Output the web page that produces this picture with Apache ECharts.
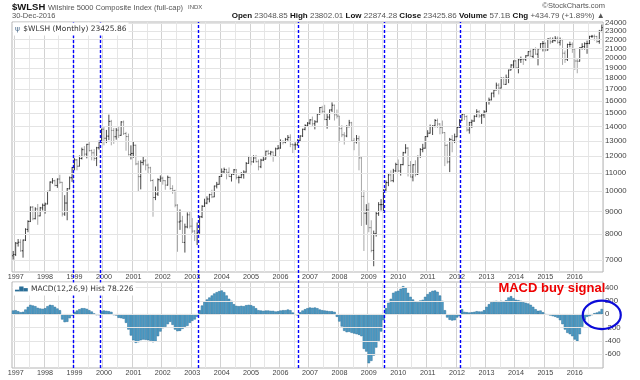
<!DOCTYPE html>
<html><head><meta charset="utf-8">
<script src="https://cdn.jsdelivr.net/npm/echarts@6/dist/echarts.min.js"></script>
<style>html,body{margin:0;padding:0;background:#fff}#c{width:640px;height:380px}</style>
</head><body><div id="c"></div>
<script>
// Monthly bars, Dec 1996 .. Dec 2016 (241 months)
const firstYear = 1996, firstMonth = 12, monthCount = 241;
const priceTicks = [7000,8000,9000,10000,11000,12000,13000,14000,15000,16000,17000,18000,19000,20000,21000,22000,23000,24000];
const macdTicks = [-600,-400,-200,0,200,400];
// MACD zero-cross marker positions (in month index units)
const signalPos = [24.6, 35.5, 75.5, 116.3, 151.4, 182.3];

const openP = [7150,7198,7634,7671,7337,7757,8203,8550,9209,8671,9122,8799,9172,
9298,9362,10000,10489,10562,10308,10658,10478,8884,9407,10130,10729,
11318,11773,11393,11860,12417,12133,12766,12357,12214,11865,12539,12917,
13812,13178,13323,14386,13725,13283,13746,13378,14342,13503,13293,12098,
12175,12704,11531,10791,11620,11717,11461,11301,10576,9681,9856,10620,
10708,10567,10326,10751,10145,10031,9304,8524,8565,7664,8308,8848,
8341,8129,7991,8058,8757,9250,9404,9606,9828,9711,10276,10370,
10800,11062,11198,11037,10796,10927,11180,10742,10744,10901,11053,11562,
11974,11659,11892,11664,11360,11760,11818,12317,12167,12264,12010,12470,
12520,12954,12909,13104,13237,12764,12727,12741,13038,13332,13807,14090,
14254,14497,14209,14351,14942,15459,15154,14524,14710,15268,15649,14885,
14786,13854,13413,13333,13994,14284,12992,12927,13149,11897,9736,8918,
9078,8275,7351,8019,8903,9329,9331,10072,10461,10888,10569,11121,
11497,11115,11487,12220,12520,11439,10771,11479,10913,11983,12424,12514,
13293,13530,14002,14054,14454,14192,13933,13569,12701,11654,13097,13030,
13280,13938,14476,14902,14748,13758,14303,14414,14769,15127,14799,14870,
15118,15955,16086,16665,16934,17367,17107,18004,17440,18026,18795,19286,
19703,18985,19822,19884,19876,20236,20680,20176,20935,20413,20988,21550,
21580,20848,22097,21754,21898,22170,21704,21985,20511,19872,21459,21470,
20950,19694,19670,21112,21231,21557,21576,22388,22404,22377,21793,23049];

const closeP = [7198,
7634,7671,7337,7757,8203,8550,9209,8671,9122,8799,9172,9298,
9362,10000,10489,10562,10308,10658,10478,8884,9407,10130,10729,11318,
11773,11393,11860,12417,12133,12766,12357,12214,11865,12539,12917,13812,
13178,13323,14386,13725,13283,13746,13378,14342,13503,13293,12098,12175,
12704,11531,10791,11620,11717,11461,11301,10576,9681,9856,10620,10708,
10567,10326,10751,10145,10031,9304,8524,8565,7664,8308,8848,8341,
8129,7991,8058,8757,9250,9404,9606,9828,9711,10276,10370,10800,
11062,11198,11037,10796,10927,11180,10742,10744,10901,11053,11562,11974,
11659,11892,11664,11360,11760,11818,12317,12167,12264,12010,12470,12520,
12954,12909,13104,13237,12764,12727,12741,13038,13332,13807,14090,14254,
14497,14209,14351,14942,15459,15154,14524,14710,15268,15649,14885,14786,
13854,13413,13333,13994,14284,12992,12927,13149,11897,9736,8918,9078,
8275,7351,8019,8903,9329,9331,10072,10461,10888,10569,11121,11497,
11115,11487,12220,12520,11439,10771,11479,10913,11983,12424,12514,13293,
13530,14002,14054,14454,14192,13933,13569,12701,11654,13097,13030,13280,
13938,14476,14902,14748,13758,14303,14414,14769,15127,14799,14870,15118,
15955,16086,16665,16934,17367,17107,18004,17440,18026,18795,19286,19703,
18985,19822,19884,19876,20236,20680,20176,20935,20413,20988,21550,21580,
20848,22097,21754,21898,22170,21704,21985,20511,19872,21459,21470,20950,
19694,19670,21112,21231,21557,21576,22388,22404,22377,21793,22991,23426];

const highP = [7330,
7680,7800,7790,7780,8250,8600,9240,9260,9200,9360,9220,9380,
9430,10020,10530,10710,10620,10690,10900,10500,9800,10170,10800,11350,
11880,11830,12050,12550,12650,12800,12990,12430,12450,12600,13020,13850,
14000,13760,14900,14500,13900,13900,14000,14400,14450,13620,13500,12700,
12950,12750,11720,11750,12000,11820,11550,11360,10650,10250,10700,10860,
10790,10600,10850,10780,10320,10080,9350,9100,8800,8450,8960,8980,
8700,8170,8500,8800,9300,9620,9740,9870,10080,10300,10500,10830,
11260,11310,11240,11320,10990,11230,11230,10850,11050,11150,11640,12020,
11980,12060,12080,11800,11840,12020,12350,12400,12340,12300,12550,12720,
13100,13050,13200,13400,13450,12830,12900,13120,13380,13850,14160,14330,
14550,14750,14480,14990,15500,15600,15680,14950,15300,15880,15700,15300,
14800,14100,13600,14100,14500,14350,13200,13400,13350,11950,10050,9350,
9420,8600,8150,8990,9450,9600,10100,10580,11000,11150,11240,11600,
11800,11530,12280,12780,12580,11700,11520,11750,12050,12520,12800,13320,
13740,14150,14100,14560,14600,14250,14450,13600,12800,13200,13400,13500,
14000,14550,14990,15000,14850,14350,14520,14850,15320,15250,14950,15250,
15990,16280,16700,17000,17600,17550,18080,18130,18350,18830,19370,19750,
19790,19930,20150,19990,20300,20730,20900,20990,21150,21050,21620,21850,
21700,22150,22300,22250,22420,22380,22250,22100,20800,21550,21780,21700,
20960,20000,21150,21600,21700,21900,22450,22560,22600,22450,23150,23802];

const lowP = [7010,
7140,7500,7300,7080,7720,8080,8520,8600,8640,8400,8780,9050,
8900,9340,9970,10400,10260,10180,10400,8770,8800,8600,10100,10500,
11150,11150,11380,11800,11950,11870,12300,11750,11720,11400,12420,12850,
12700,12850,13050,12700,12800,13080,13200,13350,13400,12350,12050,11800,
11900,11450,10000,10100,11450,11150,10950,10520,8760,9550,9760,10500,
10350,10080,10300,10080,9870,9200,7300,8180,7640,7270,8250,8240,
8050,7720,7560,8020,8700,9220,9350,9440,9650,9700,10150,10350,
10780,10990,10640,10770,10520,10900,10640,10420,10700,10680,11020,11540,
11450,11600,11620,11150,11280,11700,11800,12080,12050,11660,11980,12440,
12480,12760,12840,13000,12580,12200,12400,12660,12970,13260,13730,14010,
14150,14050,13800,14300,14900,14950,14480,13850,14500,15100,14450,14600,
12900,13250,12750,13250,13950,12950,12380,12820,11150,8350,7330,8400,
8080,7280,6770,7900,8800,9050,8950,9950,10270,10500,10480,11050,
11050,10850,11450,12180,10800,10750,10530,10800,10900,11900,12250,12480,
13250,13500,13400,13950,13900,13450,13480,11400,11550,11050,12250,12850,
13250,13900,14420,14480,13650,13500,13900,14350,14700,14650,14200,14650,
15100,15700,16050,16300,16900,16550,17080,17400,17400,17550,18760,18950,
18900,18470,19500,19300,19700,20200,20150,20000,20350,19250,20980,20700,
20700,20800,21500,21650,21800,21550,21350,19300,19500,19700,21150,20550,
18800,18480,19650,20900,20900,20450,21500,22200,21900,21650,21550,22874];

const macdHist = [55,60,45,30,35,
70,110,140,130,120,95,
85,80,90,
120,140,135,110,
85,60,
-80,-120,-115,-60,-25,
35,55,75,90,90,80,60,40,10,-15,-15,45,
55,50,45,35,-15,-20,-55,-60,-70,
-130,-230,-320,-390,-430,-420,-390,-380,-385,-390,-400,-420,-410,
-330,-260,-210,-190,-150,-115,-160,-230,-255,-250,-220,-190,-175,-130,-100,-80,-40,
60,130,185,220,250,280,310,330,345,355,
330,280,230,200,150,125,120,125,120,135,140,135,120,90,60,
55,50,55,55,50,50,40,45,55,60,60,70,60,25,-10,-20,
30,55,75,90,100,95,100,90,70,60,55,50,45,45,35,
-40,-110,-185,-250,-270,-265,-280,-290,-300,-310,-330,-520,-560,-735,-700,-620,-500,-400,-260,-90,
90,170,230,320,340,350,380,420,400,320,260,220,190,180,205,215,260,300,330,350,355,335,280,200,60,-50,-85,-95,-90,-50,-30,
75,35,30,25,30,35,45,40,40,60,110,150,180,195,200,180,200,185,210,250,270,240,215,210,200,180,170,160,140,110,75,50,55,30,
-5,-10,-20,-30,-40,-55,-90,-150,-230,-280,-300,-330,-380,-405,-300,-190,-90,-40,-30,-15,15,25,40,78];

const months = [];
for (let k = 0; k < monthCount; k++) {
  const m0 = firstMonth - 1 + k;
  const y = firstYear + Math.floor(m0 / 12), m = (m0 % 12) + 1;
  months.push(y + '-' + (m < 10 ? '0' + m : '' + m));
}
const ohlcRows = months.map((_, i) => [i, openP[i], closeP[i], lowP[i], highP[i]]);

const FONT = '"Liberation Sans", Arial, sans-serif';
const L = 12, R = 37;
const isJan = (i, v) => /-01$/.test(v);
const isJanJul = (i) => /-(01|07)$/.test(months[i]);

function xCat(grid) {
  return {
    type: 'category', gridIndex: grid, data: months, boundaryGap: true,
    axisLine: {show: false}, axisTick: {show: false},
    axisLabel: {interval: isJan, formatter: v => v.slice(0, 4), fontSize: 7.2, color: '#444', margin: 2, fontFamily: FONT},
    splitLine: {show: true, interval: isJanJul, lineStyle: {color: ['#d2d2d2', '#e6e6e6'], width: 1}}
  };
}

function renderOHLC(params, api) {
  const i = api.value(0);
  const o = api.coord([i, api.value(1)]);
  const c = api.coord([i, api.value(2)]);
  const l = api.coord([i, api.value(3)]);
  const h = api.coord([i, api.value(4)]);
  const up = api.value(2) >= api.value(1);
  const st = {stroke: up ? '#4a4a4a' : '#a8a8a8', lineWidth: 1};
  const tk = {stroke: up ? '#222' : '#777', lineWidth: 1};
  return {type: 'group', children: [
    {type: 'line', shape: {x1: h[0], y1: h[1], x2: l[0], y2: l[1]}, style: st},
    {type: 'line', shape: {x1: o[0] - 1, y1: o[1], x2: o[0], y2: o[1]}, style: tk},
    {type: 'line', shape: {x1: c[0], y1: c[1], x2: c[0] + 1, y2: c[1]}, style: tk}
  ]};
}

const chart = echarts.init(document.getElementById('c'), null, {renderer: 'canvas'});
chart.setOption({
  animation: false,
  backgroundColor: '#fff',
  grid: [
    {left: L, right: R, top: 22, height: 250, show: true, borderColor: '#b5b5b5', borderWidth: 1},
    {left: L, right: R, top: 282, height: 86, show: true, borderColor: '#b5b5b5', borderWidth: 1},
    {left: L, right: R, top: 22, height: 346, show: false}
  ],
  xAxis: [
    xCat(0), xCat(1),
    {type: 'value', gridIndex: 2, min: -0.5, max: monthCount - 0.5, show: false}
  ],
  yAxis: [
    {type: 'log', gridIndex: 0, position: 'right', min: 6571, max: 24125,
     axisLine: {show: false}, axisTick: {show: false}, splitLine: {show: false},
     axisLabel: {customValues: priceTicks, formatter: v => String(Math.round(v)), fontSize: 7.8, color: '#444', margin: 2, fontFamily: FONT}},
    {type: 'value', gridIndex: 1, position: 'right', min: -806, max: 482,
     axisLine: {show: false}, axisTick: {show: false}, splitLine: {show: false},
     axisLabel: {customValues: macdTicks, formatter: v => String(Math.round(v)), fontSize: 7.8, color: '#444', margin: 2, fontFamily: FONT}},
    {type: 'value', gridIndex: 2, min: 0, max: 1, show: false}
  ],
  series: [
    {type: 'line', xAxisIndex: 0, yAxisIndex: 0, data: [], z: 1, silent: true,
     markLine: {silent: true, symbol: 'none', animation: false, label: {show: false},
       lineStyle: {color: '#e4e4e4', width: 1, type: 'solid'},
       data: priceTicks.map(v => ({yAxis: v}))}},
    {type: 'custom', name: 'WLSH', xAxisIndex: 0, yAxisIndex: 0, data: ohlcRows,
     renderItem: renderOHLC, encode: {x: 0, y: [1, 2, 3, 4]}, z: 3, clip: true},
    {type: 'line', xAxisIndex: 1, yAxisIndex: 1, data: [], z: 1, silent: true,
     markLine: {silent: true, symbol: 'none', animation: false, label: {show: false},
       lineStyle: {color: '#e4e4e4', width: 1, type: 'solid'},
       data: macdTicks.map(v => ({yAxis: v}))}},
    {type: 'bar', name: 'MACD Hist', xAxisIndex: 1, yAxisIndex: 1, data: macdHist,
     barCategoryGap: '0%', z: 3,
     itemStyle: {color: '#4e9ec8', borderColor: '#286d96', borderWidth: 0.5}},
    {type: 'line', xAxisIndex: 2, yAxisIndex: 2, data: [], z: 10, silent: true,
     markLine: {silent: true, symbol: 'none', animation: false, label: {show: false},
       lineStyle: {color: '#0000ff', width: 1.4, type: [3, 2]},
       data: signalPos.map(x => ({xAxis: x}))}}
  ]
});

const ec = chart.convertToPixel({gridIndex: 1}, [monthCount - 1, 0]);
const topTxt = chart.convertToPixel({gridIndex: 1}, [monthCount - 1, 390]);
const bad = [openP, closeP, highP, lowP, macdHist].some(a => a.length !== monthCount);

chart.setOption({
  graphic: [
    {type: 'text', x: 12, y: 2.5, style: {text: '$WLSH', font: 'bold 9.5px ' + FONT, fill: '#111'}},
    {type: 'text', x: 48, y: 3.5, style: {text: 'Wilshire 5000 Composite Index (full-cap)', font: '7.5px ' + FONT, fill: '#555'}},
    {type: 'text', x: 188, y: 4.5, style: {text: 'INDX', font: '6px ' + FONT, fill: '#555'}},
    {type: 'text', x: 12, y: 12, style: {text: '30-Dec-2016', font: '7.5px ' + FONT, fill: '#555'}},
    {type: 'text', x: 605, y: 2, style: {text: '\u00A9StockCharts.com', font: '7.5px ' + FONT, fill: '#555', align: 'right'}},
    {type: 'text', x: 231.7, y: 12, style: {
      text: '{b|Open} {n|23048.85} {b|High} {n|23802.01} {b|Low} {n|22874.28} {b|Close} {n|23425.86} {b|Volume} {n|57.1B} {b|Chg} {n|+434.79 (+1.89%)} {n|\u25B2}',
      font: '8px ' + FONT,
      rich: {b: {fontWeight: 'bold', fill: '#111', color: '#111', fontSize: 8, fontFamily: FONT},
             n: {fill: '#555', color: '#555', fontSize: 8, fontFamily: FONT}}}},
    {type: 'text', x: 13, y: 22.5, z: 20, style: {
      text: '{i|\u03C8} {t|$WLSH (Monthly) 23425.86}', backgroundColor: '#fff', padding: [0.5, 2, 0.5, 2],
      rich: {i: {fill: '#4a6a8a', color: '#4a6a8a', fontSize: 7.5, fontFamily: '"DejaVu Sans"'},
             t: {fill: '#333', color: '#333', fontSize: 7.5, fontFamily: '"DejaVu Sans"'}}}},
    {type: 'text', x: 13, y: 282.5, z: 20, style: {
      text: '{i|\u2582\u2586\u2584} {t|MACD(12,26,9) Hist 78.226}', backgroundColor: '#fff', padding: [0.5, 2, 0.5, 2],
      rich: {i: {fill: '#2b6f98', color: '#2b6f98', fontSize: 5.5, fontFamily: '"DejaVu Sans"'},
             t: {fill: '#333', color: '#333', fontSize: 7.5, fontFamily: '"DejaVu Sans"'}}}},
    {type: 'text', x: ec[0] + 3.5, y: topTxt[1], z: 30, style: {
      text: 'MACD buy signal', font: 'bold 13px ' + FONT, fill: '#ee0000', align: 'right', verticalAlign: 'middle'}},
    {type: 'ellipse', z: 30, shape: {cx: ec[0], cy: ec[1] + 0.7, rx: 19, ry: 14.2},
     style: {fill: 'none', stroke: '#0b0bd8', lineWidth: 2.2}},
    {type: 'text', x: 200, y: 150, z: 50, invisible: !bad, style: {text: 'LENGTH MISMATCH', font: 'bold 20px sans-serif', fill: 'red'}}
  ]
});
</script>
</body></html>
